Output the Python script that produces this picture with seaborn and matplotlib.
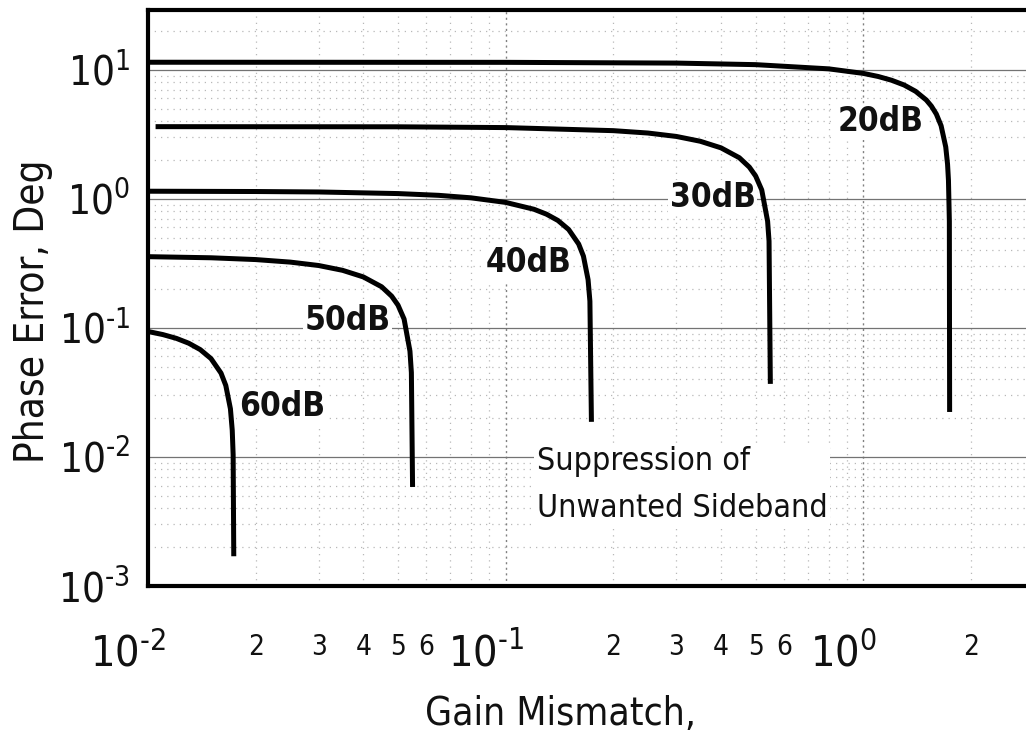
import matplotlib
matplotlib.use("Agg")
import matplotlib.pyplot as plt
import seaborn as sns
import pandas as pd
from matplotlib.ticker import FixedLocator, FixedFormatter
from matplotlib.transforms import ScaledTranslation

# ---- data (gain mismatch in dB, phase error in deg) ----
curve_names = ["20dB", "30dB", "40dB", "50dB", "60dB"]

gain_20 = [0.01, 0.1, 0.3, 0.5, 0.8, 1.0, 1.1, 1.2, 1.3, 1.4, 1.5, 1.55, 1.6, 1.65, 1.7, 1.72, 1.73, 1.74, 1.743]
phase_20 = [11.42, 11.40, 11.25, 10.94, 10.15, 9.36, 8.86, 8.28, 7.61, 6.80, 5.82, 5.22, 4.53, 3.68, 2.52, 1.85, 1.39, 0.67, 0.0223]

gain_30 = [0.0105, 0.05, 0.1, 0.2, 0.25, 0.3, 0.35, 0.4, 0.45, 0.48, 0.5, 0.52, 0.54, 0.545, 0.5496]
phase_30 = [3.62, 3.61, 3.56, 3.37, 3.23, 3.04, 2.79, 2.48, 2.08, 1.76, 1.50, 1.17, 0.67, 0.47, 0.0368]

gain_40 = [0.01, 0.02, 0.03, 0.05, 0.065, 0.08, 0.1, 0.12, 0.13, 0.14, 0.15, 0.16, 0.165, 0.17, 0.172, 0.1737]
phase_40 = [1.144, 1.138, 1.129, 1.097, 1.063, 1.017, 0.937, 0.829, 0.760, 0.679, 0.578, 0.446, 0.359, 0.236, 0.161, 0.0187]

gain_50 = [0.01, 0.015, 0.02, 0.025, 0.03, 0.035, 0.04, 0.045, 0.048, 0.05, 0.052, 0.054, 0.0545, 0.05492]
phase_50 = [0.356, 0.349, 0.338, 0.323, 0.304, 0.279, 0.248, 0.208, 0.176, 0.150, 0.117, 0.066, 0.045, 0.00585]

gain_60 = [0.01, 0.011, 0.012, 0.013, 0.014, 0.015, 0.016, 0.0165, 0.017, 0.0172, 0.0173, 0.01737]
phase_60 = [0.0937, 0.0887, 0.0829, 0.0760, 0.0678, 0.0578, 0.0446, 0.0358, 0.0236, 0.0161, 0.0104, 0.0017]

# label positions (data coords)
label_x = [1.116, 0.379, 0.1159, 0.0362, 0.02367]
label_y = [3.95, 1.018, 0.319, 0.1132, 0.0244]

HY = "\u2010"  # short hyphen as in the reference exponents
x_major = [0.01, 0.1, 1.0]
x_major_labels = ["$\\mathregular{10^{%s2}}$" % HY, "$\\mathregular{10^{%s1}}$" % HY, "$\\mathregular{10^{0}}$"]
y_major = [0.001, 0.01, 0.1, 1.0, 10.0]
y_major_labels = ["$\\mathregular{10^{%s3}}$" % HY, "$\\mathregular{10^{%s2}}$" % HY,
                  "$\\mathregular{10^{%s1}}$" % HY, "$\\mathregular{10^{0}}$", "$\\mathregular{10^{1}}$"]
minor_digits = [2, 3, 4, 5, 6, 7, 8, 9]
minor_shown = ["2", "3", "4", "5", "6", "", "", ""]

# ---- style ----
sns.set_style("white")
plt.rcParams["font.family"] = ["DejaVu Sans"]
plt.rcParams["font.stretch"] = "condensed"
plt.rcParams["mathtext.fontset"] = "dejavusans"

frames = []
for name, g, p in zip(curve_names,
                      [gain_20, gain_30, gain_40, gain_50, gain_60],
                      [phase_20, phase_30, phase_40, phase_50, phase_60]):
    frames.append(pd.DataFrame({"gain": g, "phase": p, "curve": name}))
df = pd.concat(frames, ignore_index=True)

fig = plt.figure(figsize=(10.26, 7.41), dpi=100)
ax = fig.add_axes([148 / 1026, (741 - 586) / 741, (1026 - 148) / 1026, (586 - 10) / 741])

sns.lineplot(data=df, x="gain", y="phase", hue="curve", units="curve", estimator=None,
             sort=False, palette=["black"] * 5, linewidth=3.6, legend=False, ax=ax,
             solid_capstyle="butt")

ax.set_xscale("log")
ax.set_yscale("log")
ax.set_xlim(0.01, 2.85)
ax.set_ylim(0.001, 29)

# ticks
ax.xaxis.set_major_locator(FixedLocator(x_major))
ax.xaxis.set_major_formatter(FixedFormatter(x_major_labels))
xminor = [d * m for d in [0.01, 0.1, 1.0] for m in minor_digits if d * m <= 2.85]
xminor_lab = [minor_shown[i] for d in [0.01, 0.1, 1.0] for i, m in enumerate(minor_digits) if d * m <= 2.85]
ax.xaxis.set_minor_locator(FixedLocator(xminor))
ax.xaxis.set_minor_formatter(FixedFormatter(xminor_lab))

ax.yaxis.set_major_locator(FixedLocator(y_major))
ax.yaxis.set_major_formatter(FixedFormatter(y_major_labels))
yminor = [d * m for d in [0.001, 0.01, 0.1, 1.0, 10.0] for m in minor_digits if d * m <= 29]
ax.yaxis.set_minor_locator(FixedLocator(yminor))
ax.yaxis.set_minor_formatter(FixedFormatter([""] * len(yminor)))

ax.tick_params(axis="x", which="major", length=0, pad=34, labelsize=31, labelcolor="#111111")
ax.tick_params(axis="x", which="minor", length=0, pad=34, labelsize=20, labelcolor="#111111")
ax.tick_params(axis="y", which="both", length=0, pad=13, labelsize=29, labelcolor="#111111")

for t in ax.xaxis.get_major_ticks():
    t.label1.set_transform(t.label1.get_transform() + ScaledTranslation(-0.20, 0, fig.dpi_scale_trans))

# grid
ax.set_axisbelow(True)
ax.grid(which="major", axis="y", linestyle="-", color="0.45", linewidth=0.9)
ax.grid(which="major", axis="x", linestyle=(0, (1.5, 2.5)), color="0.5", linewidth=1.0)
ax.grid(which="minor", axis="both", linestyle=(0, (1, 4)), color="0.72", linewidth=0.9)

# spines
for s in ["left", "bottom", "top"]:
    ax.spines[s].set_visible(True)
    ax.spines[s].set_linewidth(3.0)
    ax.spines[s].set_color("black")
ax.spines["right"].set_visible(False)

# labels
ax.set_xlabel("Gain Mismatch,", fontsize=28, color="#111111")
ax.set_ylabel("Phase Error, Deg", fontsize=29, color="#111111")
ax.xaxis.set_label_coords(0.470, -0.190)
ax.yaxis.set_label_coords(-0.108, 0.477)

for name, lx, ly in zip(curve_names, label_x, label_y):
    ax.text(lx, ly, name, fontsize=24, fontweight="bold", ha="center", va="center",
            color="#111111", zorder=1.5,
            bbox=dict(facecolor="white", edgecolor="none", pad=1.0))

ax.text(0.1221, 0.00607, "Suppression of\nUnwanted Sideband", fontsize=23, ha="left", va="center",
        linespacing=1.65, color="#111111", zorder=1.5,
        bbox=dict(facecolor="white", edgecolor="none", pad=2.0))

fig.savefig("out.png", dpi=100, facecolor="white")
